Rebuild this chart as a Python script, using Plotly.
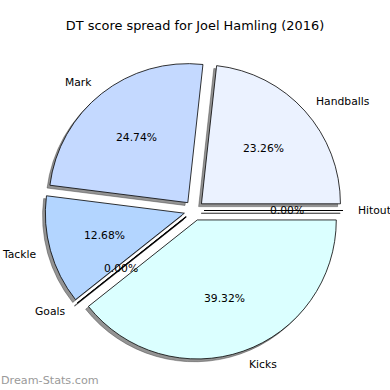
import math
import plotly.graph_objects as go

# Data
labels = ["Hitout", "Handballs", "Mark", "Tackle", "Goals", "Kicks"]
values = [0.0, 23.26, 24.74, 12.68, 0.0, 39.32]
colors = ["#ebf2ff", "#ebf2ff", "#c4d9ff", "#b3d5ff", "#c4d9ff", "#dbffff"]
title = "DT score spread for Joel Hamling (2016)"
watermark = "Dream-Stats.com"

# Layout constants (pixels)
W = H = 390
CX, CY = 194.0, 210.5      # pie centre (px, from top)
R = 139.0                  # radius px
EXPLODE = 0.072
SHADOW = 2.8
D = R * (2 + 2 * EXPLODE)
SHADOW_COL = "rgba(60,60,60,0.55)"

def px_x(x):
    return x / W

def px_y(y):
    return (H - y) / H

def dom(cx, cy):
    return dict(x=[px_x(cx - D / 2), px_x(cx + D / 2)],
                y=[px_y(cy + D / 2), px_y(cy - D / 2)])

pulls = [EXPLODE] * len(values)
common = dict(labels=labels, values=values, sort=False, direction="counterclockwise",
              rotation=90, pull=pulls, textinfo="none", hoverinfo="label+percent",
              showlegend=False)

fig = go.Figure()
fig.add_trace(go.Pie(domain=dom(CX - SHADOW, CY + SHADOW),
                     marker=dict(colors=[SHADOW_COL] * len(values),
                                 line=dict(color=SHADOW_COL, width=0.8)),
                     **common))
fig.add_trace(go.Pie(domain=dom(CX, CY),
                     marker=dict(colors=colors, line=dict(color="black", width=0.8)),
                     **common))

# Labels and percentages, placed like matplotlib (from cumulative angles)
total = sum(values)
annotations = []
shapes = []
cum = 0.0
for lab, v in zip(labels, values):
    a0 = cum / total * 360
    cum += v
    a1 = cum / total * 360
    mid = math.radians((a0 + a1) / 2)
    c, s = math.cos(mid), math.sin(mid)
    ox = CX + EXPLODE * R * c
    oy = CY - EXPLODE * R * s
    if v == 0:
        # zero-size wedge is drawn as a radial line (with its shadow)
        shapes.append(dict(type="line", xref="paper", yref="paper",
                           x0=px_x(ox - SHADOW), y0=px_y(oy + SHADOW),
                           x1=px_x(ox - SHADOW + R * c), y1=px_y(oy + SHADOW - R * s),
                           line=dict(color=SHADOW_COL, width=1.2), layer="above"))
        shapes.append(dict(type="line", xref="paper", yref="paper",
                           x0=px_x(ox), y0=px_y(oy),
                           x1=px_x(ox + R * c), y1=px_y(oy - R * s),
                           line=dict(color="black", width=1.2), layer="above"))
    lx, ly = ox + 1.1 * R * c, oy - 1.1 * R * s
    annotations.append(dict(x=px_x(lx), y=px_y(ly), xref="paper", yref="paper",
                            text=lab, showarrow=False, borderpad=0,
                            xanchor="left" if c > 1e-9 else "right", yanchor="middle",
                            font=dict(family="DejaVu Sans", size=10.75, color="black")))
    tx, ty = ox + 0.6 * R * c, oy - 0.6 * R * s
    annotations.append(dict(x=px_x(tx), y=px_y(ty), xref="paper", yref="paper",
                            text=f"{v / total * 100:.2f}%", showarrow=False, borderpad=0,
                            xanchor="center", yanchor="middle",
                            font=dict(family="DejaVu Sans", size=10.75, color="black")))

annotations.append(dict(x=px_x(0), y=px_y(380), xref="paper", yref="paper",
                        text=watermark, showarrow=False, xanchor="left", yanchor="middle",
                        borderpad=0,
                        font=dict(family="DejaVu Sans", size=11.2, color="#9a9a9a")))

fig.update_layout(
    width=W, height=H,
    margin=dict(l=0, r=0, t=0, b=0),
    paper_bgcolor="white", plot_bgcolor="white",
    title=dict(text=title, x=0.5, xanchor="center", y=px_y(25), yanchor="middle",
               font=dict(family="DejaVu Sans", size=12.9, color="black")),
    annotations=annotations,
    shapes=shapes,
)

fig.write_html("out.html", config={"displayModeBar": False},
               post_script="document.body.style.margin='0';")
